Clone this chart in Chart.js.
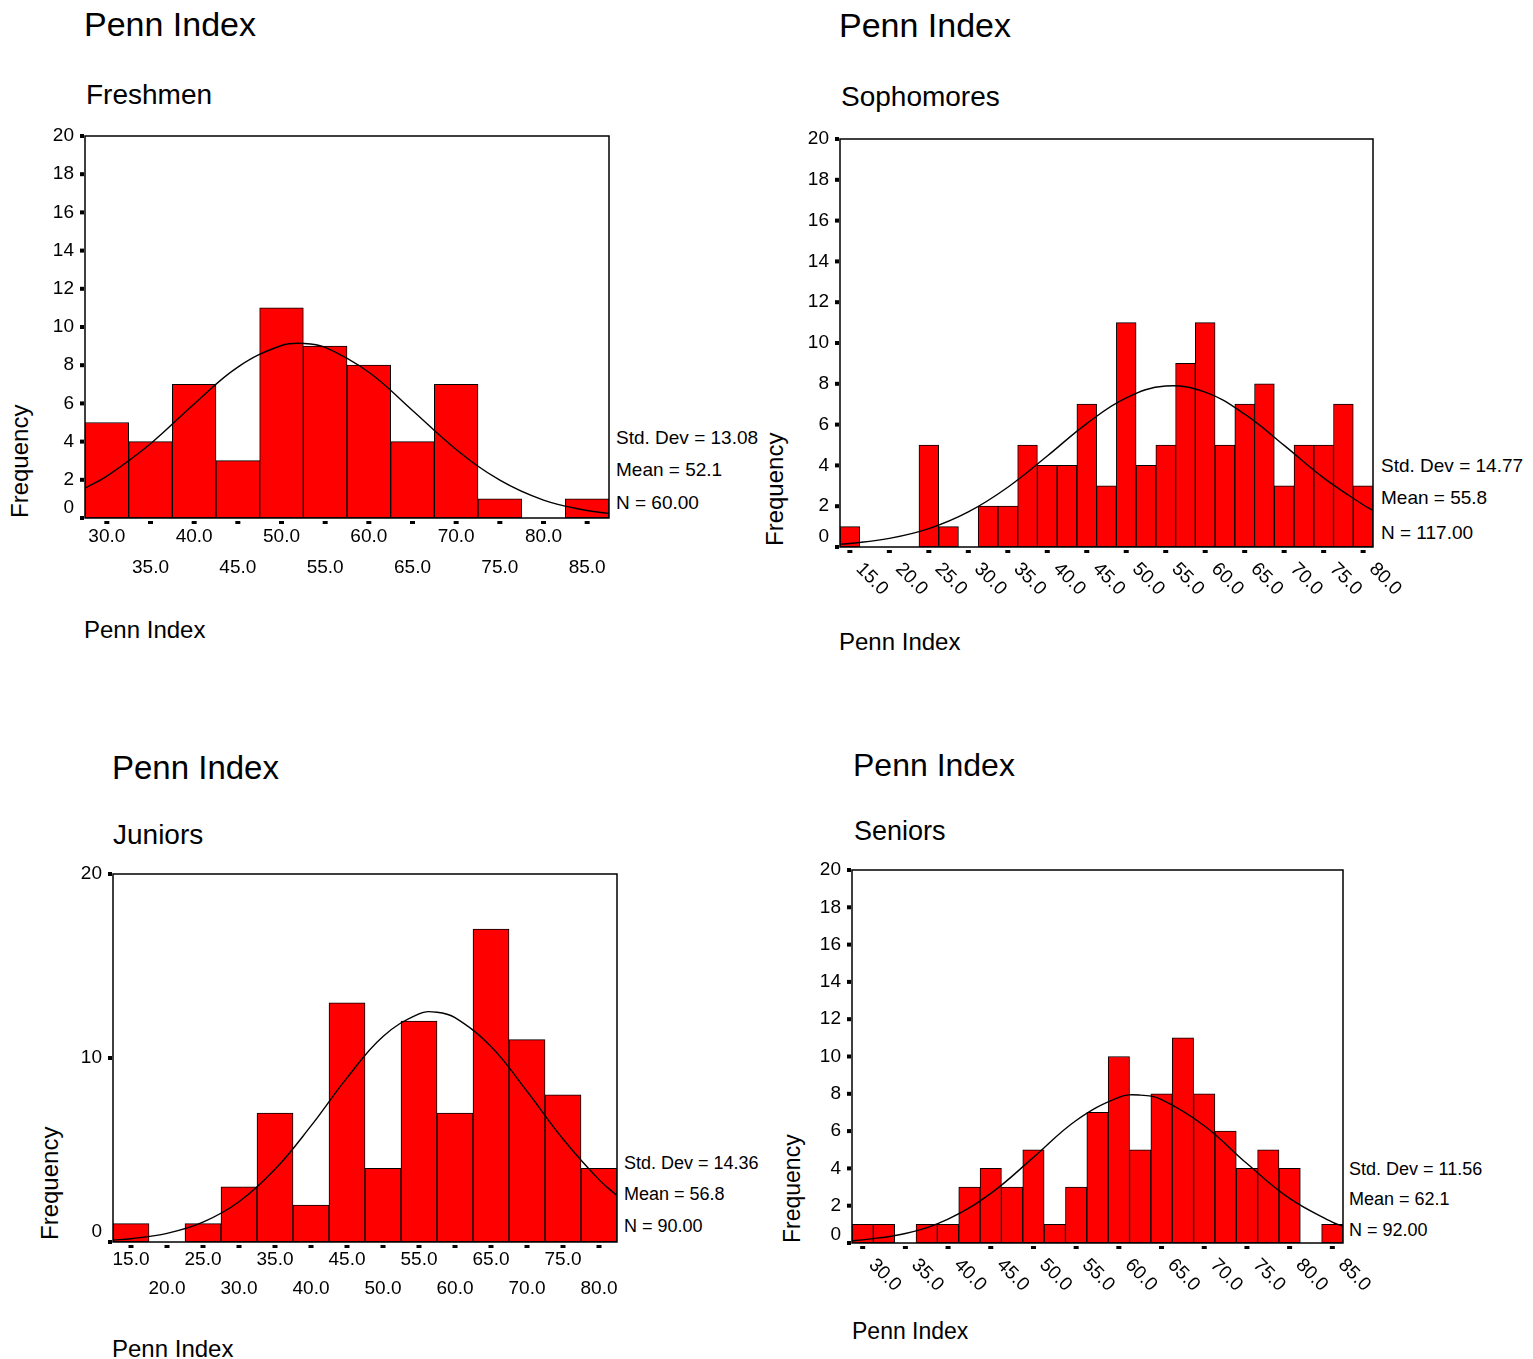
<!DOCTYPE html>
<html>
<head>
<meta charset="utf-8">
<script src="https://cdn.jsdelivr.net/npm/chart.js@4.4.1/dist/chart.umd.min.js"></script>
<style>
  body { margin: 0; background: #fff; }
  #page { position: relative; width: 1533px; height: 1359px; font-family: "Liberation Sans", Arial, sans-serif; color: #000; overflow: hidden; }
  .t { position: absolute; white-space: nowrap; line-height: 1; }
  canvas { position: absolute; }
</style>
</head>
<body>
<div id="page"></div>
<script>
// ===== DATA =====
const freshmenBins   = [30, 35, 40, 45, 50, 55, 60, 65, 70, 75, 80, 85];
const freshmenCounts = [5, 4, 7, 3, 11, 9, 8, 4, 7, 1, 0, 1];
const freshmenTicks  = [30, 35, 40, 45, 50, 55, 60, 65, 70, 75, 80, 85];
const freshmenCurveX = [27.5, 30, 35, 40, 45, 50, 52.5, 55, 60, 65, 70, 75, 80, 85, 87.5];
const freshmenCurveY = [1.56, 2.19, 3.89, 5.97, 7.90, 9.03, 9.14, 8.93, 7.63, 5.63, 3.59, 1.98, 0.94, 0.39, 0.24];
const freshmenStats  = ["Std. Dev = 13.08", "Mean = 52.1", "N = 60.00"];

const sophBins   = [15, 17.5, 20, 22.5, 25, 27.5, 30, 32.5, 35, 37.5, 40, 42.5, 45, 47.5, 50, 52.5, 55, 57.5, 60, 62.5, 65, 67.5, 70, 72.5, 75, 77.5, 80];
const sophCounts = [1, 0, 0, 0, 5, 1, 0, 2, 2, 5, 4, 4, 7, 3, 11, 4, 5, 9, 11, 5, 7, 8, 3, 5, 5, 7, 3];
const sophTicks  = [15, 20, 25, 30, 35, 40, 45, 50, 55, 60, 65, 70, 75, 80];
const sophCurveX = [13.75, 15, 20, 25, 30, 35, 40, 45, 50, 55, 60, 65, 70, 75, 80, 81.25];
const sophCurveY = [0.14, 0.17, 0.42, 0.90, 1.72, 2.93, 4.46, 6.05, 7.31, 7.89, 7.59, 6.51, 4.98, 3.39, 2.07, 1.79];
const sophStats  = ["Std. Dev = 14.77", "Mean = 55.8", "N = 117.00"];

const juniorBins   = [15, 20, 25, 30, 35, 40, 45, 50, 55, 60, 65, 70, 75, 80];
const juniorCounts = [1, 0, 1, 3, 7, 2, 13, 4, 12, 7, 17, 11, 8, 4];
const juniorTicks  = [15, 20, 25, 30, 35, 40, 45, 50, 55, 60, 65, 70, 75, 80];
const juniorCurveX = [12.5, 15, 20, 25, 30, 35, 40, 45, 50, 55, 57.5, 60, 65, 70, 75, 80, 82.5];
const juniorCurveY = [0.11, 0.18, 0.47, 1.08, 2.19, 3.95, 6.31, 8.92, 11.17, 12.40, 12.49, 12.19, 10.62, 8.19, 5.60, 3.39, 2.52];
const juniorStats  = ["Std. Dev = 14.36", "Mean = 56.8", "N = 90.00"];

const seniorBins   = [30, 32.5, 35, 37.5, 40, 42.5, 45, 47.5, 50, 52.5, 55, 57.5, 60, 62.5, 65, 67.5, 70, 72.5, 75, 77.5, 80, 82.5, 85];
const seniorCounts = [1, 1, 0, 1, 1, 3, 4, 3, 5, 1, 3, 7, 10, 5, 8, 11, 8, 6, 4, 5, 4, 0, 1];
const seniorTicks  = [30, 35, 40, 45, 50, 55, 60, 65, 70, 75, 80, 85];
const seniorCurveX = [28.75, 30, 35, 40, 45, 50, 55, 60, 62.5, 65, 70, 75, 80, 85, 86.25];
const seniorCurveY = [0.12, 0.17, 0.51, 1.28, 2.66, 4.59, 6.57, 7.81, 7.93, 7.69, 6.29, 4.26, 2.39, 1.12, 0.90];
const seniorStats  = ["Std. Dev = 11.56", "Mean = 62.1", "N = 92.00"];

const FONT = '"Liberation Sans", Arial, sans-serif';

// ===== PANEL LAYOUT =====
const panels = [
  { group: "Freshmen", bins: freshmenBins, counts: freshmenCounts, ticks: freshmenTicks,
    cx: freshmenCurveX, cy: freshmenCurveY, stats: freshmenStats,
    min: 27.5, max: 87.5, yStep: 2, box: { L: 85, R: 609, T: 136, B: 518 }, rotate: false, rows: [19, 50], zeroUp: 10,
    title: [84, 24, 34], sub: [86, 95, 28], freq: [20, 518, 24], xTitle: [84, 630, 24], statsAt: [616, [437, 469, 502], 19] },
  { group: "Sophomores", bins: sophBins, counts: sophCounts, ticks: sophTicks,
    cx: sophCurveX, cy: sophCurveY, stats: sophStats,
    min: 13.75, max: 81.25, yStep: 2, box: { L: 840, R: 1373, T: 139, B: 547 }, rotate: true, zeroUp: 10,
    title: [839, 25, 34], sub: [841, 97, 28], freq: [775, 546, 24], xTitle: [839, 642, 24], statsAt: [1381, [465, 497, 532], 19] },
  { group: "Juniors", bins: juniorBins, counts: juniorCounts, ticks: juniorTicks,
    cx: juniorCurveX, cy: juniorCurveY, stats: juniorStats,
    min: 12.5, max: 82.5, yStep: 10, box: { L: 113, R: 617, T: 874, B: 1242 }, rotate: false, rows: [18, 47], zeroUp: 10,
    title: [112, 767, 33], sub: [113, 835, 28], freq: [50, 1240, 24], xTitle: [112, 1349, 24], statsAt: [624, [1163, 1194, 1226], 18] },
  { group: "Seniors", bins: seniorBins, counts: seniorCounts, ticks: seniorTicks,
    cx: seniorCurveX, cy: seniorCurveY, stats: seniorStats,
    min: 28.75, max: 86.25, yStep: 2, box: { L: 852, R: 1343, T: 870, B: 1243 }, rotate: true, zeroUp: 8,
    title: [853, 765, 32], sub: [854, 831, 27], freq: [792, 1243, 23], xTitle: [852, 1331, 23], statsAt: [1349, [1169, 1199, 1230], 18] }
];

const page = document.getElementById("page");

function addText(txt, x, yCenter, size) {
  const d = document.createElement("div");
  d.className = "t";
  d.textContent = txt;
  d.style.left = x + "px";
  d.style.top = (yCenter - size / 2) + "px";
  d.style.fontSize = size + "px";
  page.appendChild(d);
}

function addVertical(txt, xCenter, bottom, size) {
  const d = document.createElement("div");
  d.className = "t";
  d.textContent = txt;
  d.style.fontSize = size + "px";
  d.style.left = (xCenter - size / 2) + "px";
  d.style.top = bottom + "px";
  d.style.transformOrigin = "0 0";
  d.style.transform = "rotate(-90deg)";
  page.appendChild(d);
}

// frame, tick marks, x tick labels and the raised "0" label, placed through the chart scales
const decorPlugin = {
  id: "decor",
  afterDatasetsDraw(chart, args, opts) {
    const { ctx, chartArea: a, scales: { x, y } } = chart;
    ctx.save();
    ctx.strokeStyle = "#000";
    ctx.lineWidth = 1.5;
    ctx.strokeRect(a.left, a.top, a.right - a.left, a.bottom - a.top);
    ctx.fillStyle = "#000";
    y.ticks.forEach(t => {
      const py = y.getPixelForValue(t.value);
      ctx.fillRect(a.left - 5, py - 2, 4, 4);
    });
    ctx.font = "19px " + FONT;
    // SPSS lifts the "0" label above its tick
    ctx.textAlign = "right";
    ctx.textBaseline = "middle";
    ctx.fillText("0", a.left - 11, y.getPixelForValue(0) - opts.zeroUp);
    x.ticks.forEach((t, i) => {
      const px = x.getPixelForValue(t.value);
      ctx.fillRect(px - 2.5, a.bottom + 3, 5, 3);
      const label = t.value.toFixed(1);
      if (opts.rotate) {
        ctx.save();
        ctx.translate(px + 9, a.bottom + 19);
        ctx.rotate(Math.PI / 4);
        ctx.textAlign = "left";
        ctx.textBaseline = "middle";
        ctx.fillText(label, 0, 0);
        ctx.restore();
      } else {
        ctx.textAlign = "center";
        ctx.textBaseline = "middle";
        ctx.fillText(label, px, a.bottom + opts.rows[i % 2]);
      }
    });
    ctx.restore();
  }
};

const PAD_TOP = 24, PAD_RIGHT = 40, Y_W = 40, X_H = 80;

panels.forEach(p => {
  addText("Penn Index", p.title[0], p.title[1], p.title[2]);
  addText(p.group, p.sub[0], p.sub[1], p.sub[2]);
  addVertical("Frequency", p.freq[0], p.freq[1], p.freq[2]);
  addText("Penn Index", p.xTitle[0], p.xTitle[1], p.xTitle[2]);
  p.stats.forEach((s, i) => addText(s, p.statsAt[0], p.statsAt[1][i], p.statsAt[2]));

  const b = p.box;
  const canvas = document.createElement("canvas");
  const w = (b.R - b.L) + Y_W + PAD_RIGHT;
  const h = (b.B - b.T) + PAD_TOP + X_H;
  canvas.width = w;
  canvas.height = h;
  canvas.style.width = w + "px";
  canvas.style.height = h + "px";
  canvas.style.left = (b.L - Y_W) + "px";
  canvas.style.top = (b.T - PAD_TOP) + "px";
  page.appendChild(canvas);

  new Chart(canvas, {
    type: "bar",
    data: {
      datasets: [
        {
          type: "line",
          order: 0,
          data: p.cx.map((v, i) => ({ x: v, y: p.cy[i] })),
          borderColor: "#000",
          borderWidth: 1.4,
          pointRadius: 0,
          tension: 0.4,
          fill: false
        },
        {
          type: "bar",
          order: 1,
          data: p.bins.map((v, i) => ({ x: v, y: p.counts[i] })),
          backgroundColor: "#ff0000",
          borderColor: "#000",
          borderWidth: 1,
          borderSkipped: false,
          barPercentage: 1,
          categoryPercentage: 1
        }
      ]
    },
    options: {
      responsive: false,
      animation: false,
      layout: { padding: { top: PAD_TOP, right: PAD_RIGHT, left: 0, bottom: 0 } },
      plugins: {
        legend: { display: false },
        tooltip: { enabled: false },
        decor: { rotate: p.rotate, rows: p.rows, zeroUp: p.zeroUp }
      },
      scales: {
        x: {
          type: "linear",
          offset: false,
          min: p.min,
          max: p.max,
          afterBuildTicks: s => { s.ticks = p.ticks.map(v => ({ value: v })); },
          afterFit: s => { s.height = X_H; },
          ticks: { display: false },
          grid: { display: false, drawTicks: false },
          border: { display: false }
        },
        y: {
          min: 0,
          max: 20,
          afterFit: s => { s.width = Y_W; },
          ticks: {
            stepSize: p.yStep,
            color: "#000",
            padding: 11,
            font: { family: FONT, size: 19 },
            callback: v => (v === 0 ? "" : v)
          },
          grid: { display: false, drawTicks: false },
          border: { display: false }
        }
      }
    },
    plugins: [decorPlugin]
  });
});
</script>
</body>
</html>
